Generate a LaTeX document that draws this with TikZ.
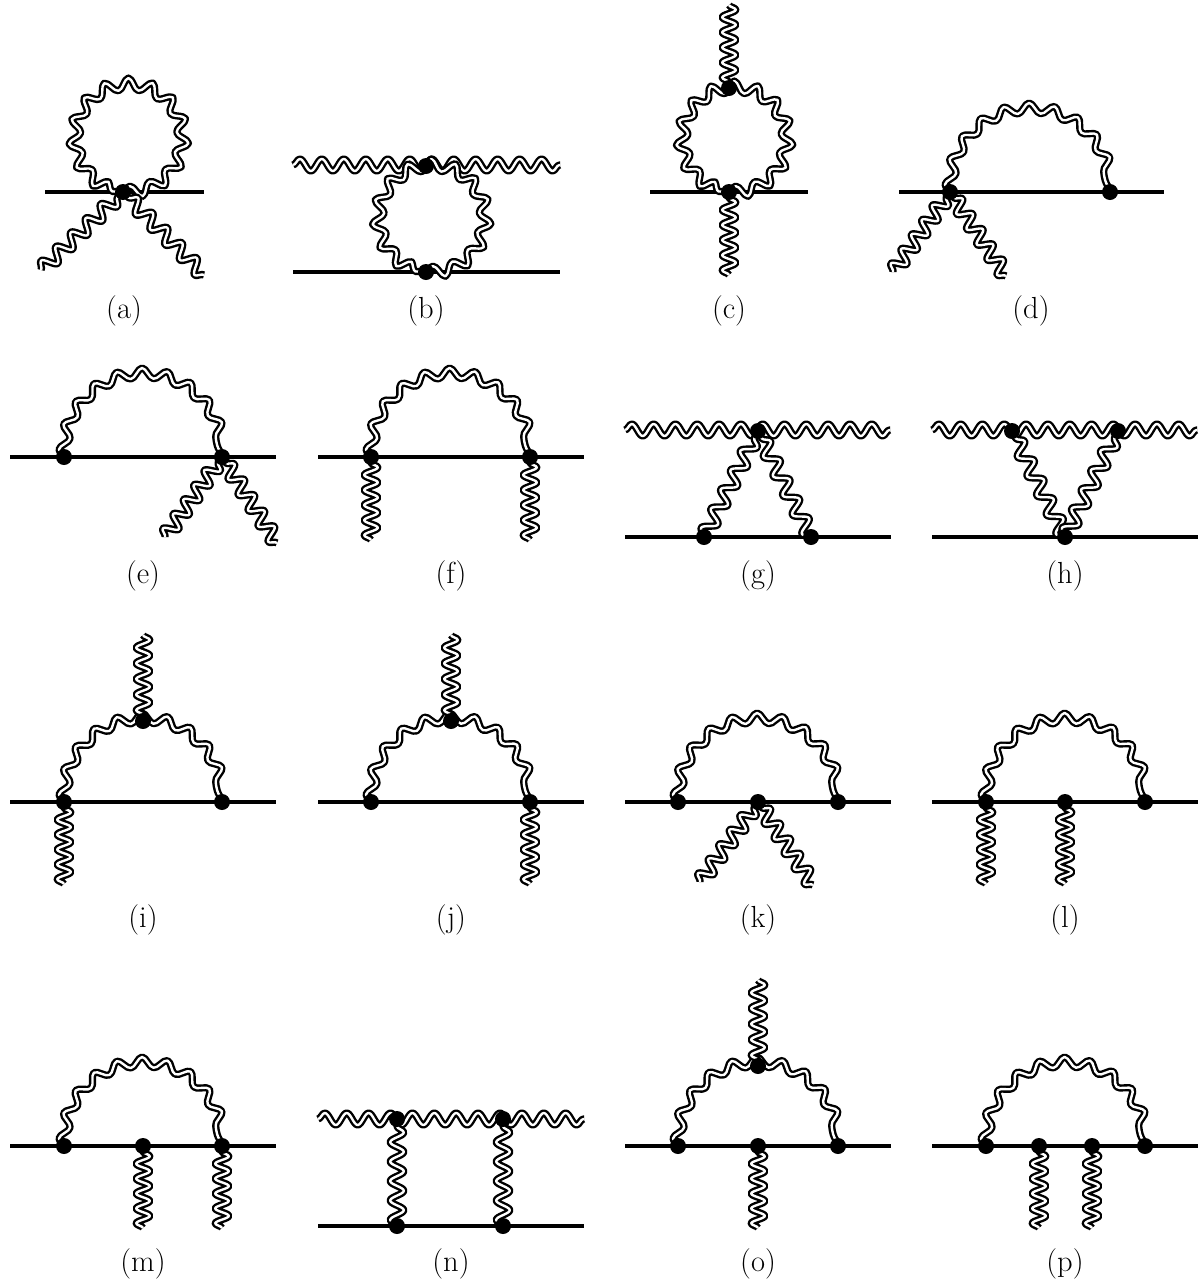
\documentclass[tikz,border=0pt]{standalone}
\usepackage{fontspec}
\usetikzlibrary{decorations.pathmorphing,calc}
\pgfdeclarelayer{back}
\pgfsetlayers{back,main}
\tikzset{
  dot/.style={circle,fill=black,draw=none,inner sep=0pt,minimum size=16pt},
  solidl/.style={line width=3.6pt,black},
  wavy/.style={decorate,decoration={snake,amplitude=6.8pt,segment length=20pt,pre length=0pt,post length=0pt},double=white,double distance=2.4pt,line width=2.4pt,line join=round},
  lab/.style={font=\fontsize{30.5}{36}\selectfont,inner sep=0pt}
}
\newcommand{\V}[3]{\node[dot] (#1) at (#2,#3) {};}
\newcommand{\E}[3]{\coordinate (#1) at (#2,#3);}
\newcommand{\Sol}[5]{\E{#1a}{#2}{#3}\E{#1b}{#4}{#5}\begin{pgfonlayer}{back}\draw[solidl] (#1a) -- (#1b);\end{pgfonlayer}}
\newcommand{\Wn}[3]{\begin{pgfonlayer}{back}\draw[wavy] let \p1=($(#3)-(#2)$),\n1={veclen(\x1,\y1)} in [decoration={segment length={\n1/#1}}] (#3) -- (#2);\end{pgfonlayer}}
\newcommand{\W}[2]{\Wn{5.5}{#1}{#2}}
\newcommand{\WL}[5]{\E{#1a}{#2}{#3}\E{#1b}{#4}{#5}\begin{pgfonlayer}{back}\draw[wavy,decoration={amplitude=6pt,segment length={(#4-#2)/12.15}}] (#1a) -- (#1b);\end{pgfonlayer}}
\newcommand{\Arc}[4]{\begin{pgfonlayer}{back}\pgfmathsetmacro{\myL}{3.1416*(#3+#4)/2}\pgfmathsetmacro{\myS}{\myL/10.2}\draw[wavy,decoration={amplitude=5pt,segment length=\myS pt}] (#1.center) arc[start angle=180,end angle=0,x radius=#3pt,y radius=#4pt];\end{pgfonlayer}}
\newcommand{\Circ}[2]{\begin{pgfonlayer}{back}\pgfmathsetmacro{\myL}{2*3.1416*\myr}\pgfmathsetmacro{\myS}{\myL/15.1}\draw[wavy,decoration={amplitude=5.8pt,segment length=\myS pt}] (#1.center) arc[start angle=#2,delta angle=360,radius=\myr pt];\end{pgfonlayer}}
\begin{document}
\begin{tikzpicture}[x=1pt,y=-1pt]
\useasboundingbox (0,0) rectangle (1203,1283);
% (a)
\Sol{la}{45}{192}{204}{192}
\V{a1}{123}{192}
\E{ae1}{41}{270}\E{ae2}{204}{275}
\def\myr{54}\Circ{a1}{-90}
\W{a1.center}{ae1}\W{a1.center}{ae2}
\node[lab] (ta) at (124,311) {(a)};
% (b)
\Sol{lb}{293}{272}{560}{272}
\WL{wb}{293}{165}{560}{165}
\V{b1}{426}{166}\V{b2}{426}{272}
\def\myr{53.5}\Circ{b2}{-90}
\node[lab] (tb) at (426,311) {(b)};
% (c)
\Sol{lc}{650}{192}{808}{192}
\V{c1}{729}{88}\V{c2}{729}{192}
\E{ce1}{729}{5}\E{ce2}{729}{275}
\def\myr{52.5}\Circ{c2}{-90}
\W{c1.center}{ce1}\W{c2.center}{ce2}
\node[lab] (tc) at (729,311) {(c)};
% (d)
\Sol{ld}{899}{192}{1164}{192}
\V{d1}{950}{192}\V{d2}{1110}{192}
\E{de1}{893}{272}\E{de2}{1006}{276}
\Arc{d1}{d2}{80}{78}
\W{d1.center}{de1}\W{d1.center}{de2}
\node[lab] (td) at (1031,311) {(d)};
% (e)
\Sol{le}{10}{457}{276}{457}
\V{e1}{64}{457}\V{e2}{222}{457}
\E{ee1}{165}{537}\E{ee2}{277}{543}
\Arc{e1}{e2}{79}{78}
\W{e2.center}{ee1}\W{e2.center}{ee2}
\node[lab] (te) at (143,576) {(e)};
% (f)
\Sol{lf}{318}{457}{584}{457}
\V{f1}{371}{457}\V{f2}{530}{457}
\E{fe1}{371}{540}\E{fe2}{530}{540}
\Arc{f1}{f2}{79.5}{78}
\W{f1.center}{fe1}\W{f2.center}{fe2}
\node[lab] (tf) at (451,576) {(f)};
% (g)
\Sol{lg}{625}{537}{891}{537}
\WL{wg}{625}{430}{890}{430}
\V{g1}{758}{431}\V{g2}{704}{537}\V{g3}{811}{537}
\W{g1.center}{g2.center}\W{g1.center}{g3.center}
\node[lab] (tg) at (758,576) {(g)};
% (h)
\Sol{lh}{932}{537}{1198}{537}
\WL{wh}{932}{430}{1197}{430}
\V{h1}{1012}{431}\V{h2}{1118}{431}\V{h3}{1065}{537}
\W{h1.center}{h3.center}\W{h2.center}{h3.center}
\node[lab] (th) at (1065,576) {(h)};
% (i)
\Sol{li}{10}{802}{276}{802}
\V{i1}{64}{802}\V{i2}{222}{802}\V{i3}{143}{721}
\E{ie1}{143}{635}\E{ie2}{64}{884}
\Arc{i1}{i2}{79}{78}
\W{i3.center}{ie1}\W{i1.center}{ie2}
\node[lab] (ti) at (143,920) {(i)};
% (j)
\Sol{lj}{318}{802}{584}{802}
\V{j1}{371}{802}\V{j2}{530}{802}\V{j3}{451}{721}
\E{je1}{451}{635}\E{je2}{530}{884}
\Arc{j1}{j2}{79.5}{78}
\W{j3.center}{je1}\W{j2.center}{je2}
\node[lab] (tj) at (451,920) {(j)};
% (k)
\Sol{lk}{625}{802}{891}{802}
\V{k1}{678}{802}\V{k2}{758}{802}\V{k3}{838}{802}
\E{ke1}{700}{882}\E{ke2}{813}{885}
\Arc{k1}{k3}{80}{78}
\W{k2.center}{ke1}\W{k2.center}{ke2}
\node[lab] (tk) at (758,920) {(k)};
% (l)
\Sol{ll}{932}{802}{1198}{802}
\V{l1}{986}{802}\V{l2}{1065}{802}\V{l3}{1145}{802}
\E{le1}{986}{884}\E{le2}{1065}{884}
\Arc{l1}{l3}{79.5}{78}
\W{l1.center}{le1}\W{l2.center}{le2}
\node[lab] (tl) at (1065,920) {(l)};
% (m)
\Sol{lm}{10}{1146}{276}{1146}
\V{m1}{64}{1146}\V{m2}{143}{1146}\V{m3}{222}{1146}
\E{me1}{143}{1228}\E{me2}{222}{1228}
\Arc{m1}{m3}{79}{78}
\W{m2.center}{me1}\W{m3.center}{me2}
\node[lab] (tm) at (143,1264) {(m)};
% (n)
\Sol{ln}{318}{1226}{584}{1226}
\WL{wn}{318}{1119}{584}{1119}
\V{n1}{397}{1119}\V{n2}{503}{1119}\V{n3}{397}{1226}\V{n4}{503}{1226}
\W{n1.center}{n3.center}\W{n2.center}{n4.center}
\node[lab] (tn) at (451,1264) {(n)};
% (o)
\Sol{lo}{625}{1146}{891}{1146}
\V{o1}{678}{1146}\V{o2}{758}{1146}\V{o3}{838}{1146}\V{o4}{758}{1066}
\E{oe1}{758}{980}\E{oe2}{758}{1228}
\Arc{o1}{o3}{80}{78}
\W{o4.center}{oe1}\W{o2.center}{oe2}
\node[lab] (to) at (758,1264) {(o)};
% (p)
\Sol{lp}{932}{1146}{1198}{1146}
\V{p1}{986}{1146}\V{p2}{1039}{1146}\V{p3}{1092}{1146}\V{p4}{1145}{1146}
\E{pe1}{1039}{1228}\E{pe2}{1092}{1228}
\Arc{p1}{p4}{79.5}{78}
\W{p2.center}{pe1}\W{p3.center}{pe2}
\node[lab] (tp) at (1065,1264) {(p)};
\end{tikzpicture}
\end{document}
